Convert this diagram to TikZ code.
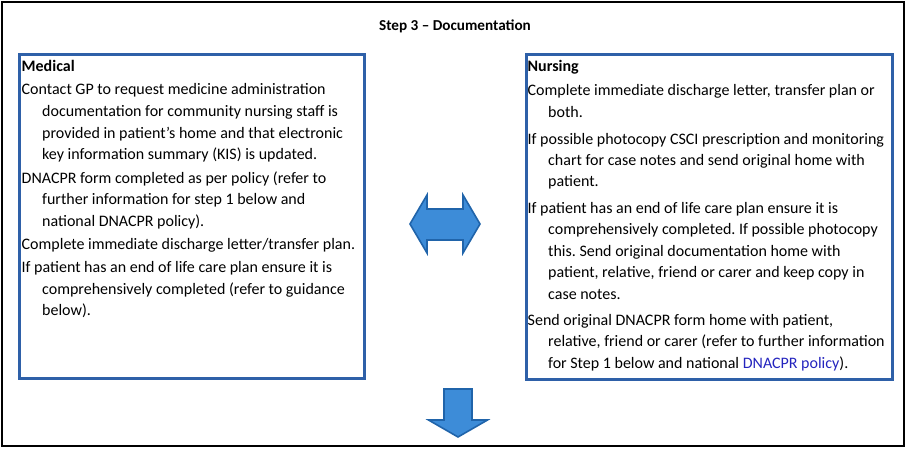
\documentclass[tikz,border=0pt]{standalone}
\usepackage{fontspec}
\setmainfont{Carlito}
\definecolor{boxblue}{RGB}{46,96,168}
\definecolor{arrowfill}{RGB}{61,140,216}
\definecolor{arrowline}{RGB}{32,100,170}
\definecolor{linkblue}{RGB}{36,36,190}
\frenchspacing
\begin{document}
\begin{tikzpicture}[x=1pt,y=-1pt,
  txt/.style={anchor=base west,inner sep=0pt,font=\fontsize{16}{19}\selectfont},
  head/.style={txt,font=\fontsize{16}{19}\selectfont\bfseries},
  panel/.style={draw=boxblue,line width=3pt},
  blockarrow/.style={fill=arrowfill,draw=arrowline,line width=1.6pt,line join=miter}]
\useasboundingbox (0,0) rectangle (906,449);
\draw[line width=1.2pt] (2,2) rectangle (904,446);
\node[anchor=base,inner sep=0pt,font=\fontsize{15.2}{18}\selectfont\bfseries] (title) at (455,31) {Step 3 – Documentation};

\draw[panel] (19,55) rectangle (364,379);
\draw[panel] (526,55) rectangle (892,380);

% Medical
\node[head] (m0) at (21.5,72) {Medical};
\node[txt] (m1) at (21.5,95) {Contact GP to request medicine administration};
\node[txt] (m2) at (42,116.7) {documentation for community nursing staff is};
\node[txt] (m3) at (42,138.3) {provided in patient’s home and that electronic};
\node[txt] (m4) at (42,160) {key information summary (KIS) is updated.};
\node[txt] (m5) at (21.5,183.3) {DNACPR form completed as per policy (refer to};
\node[txt] (m6) at (42,205) {further information for step 1 below and};
\node[txt] (m7) at (42,226.7) {national DNACPR policy).};
\node[txt] (m8) at (21.5,249.3) {Complete immediate discharge letter/transfer plan.};
\node[txt] (m9) at (21.5,272.7) {If patient has an end of life care plan ensure it is};
\node[txt] (m10) at (42,294.3) {comprehensively completed (refer to guidance};
\node[txt] (m11) at (42,316) {below).};

% Nursing
\node[head] (n0) at (527.5,71.7) {Nursing};
\node[txt] (n1) at (527.5,96) {Complete immediate discharge letter, transfer plan or};
\node[txt] (n2) at (548,117.7) {both.};
\node[txt] (n3) at (527.5,144.3) {If possible photocopy CSCI prescription and monitoring};
\node[txt] (n4) at (548,166) {chart for case notes and send original home with};
\node[txt] (n5) at (548,186.7) {patient.};
\node[txt] (n6) at (527.5,213.3) {If patient has an end of life care plan ensure it is};
\node[txt] (n7) at (548,235) {comprehensively completed. If possible photocopy};
\node[txt] (n8) at (548,256.7) {this. Send original documentation home with};
\node[txt] (n9) at (548,277.7) {patient, relative, friend or carer and keep copy in};
\node[txt] (n10) at (548,299.3) {case notes.};
\node[txt] (n11) at (527.5,326) {Send original DNACPR form home with patient,};
\node[txt] (n12) at (548,346.7) {relative, friend or carer (refer to further information};
\node[txt] (n13) at (548,368.3) {for Step 1 below and national \textcolor{linkblue}{DNACPR policy}).};

% double arrow
\draw[blockarrow] (410,224) -- (427,195) -- (427,209) -- (463,209) -- (463,195) -- (480,224)
  -- (463,253) -- (463,240) -- (427,240) -- (427,253) -- cycle;
% down arrow
\draw[blockarrow] (444,389) -- (472,389) -- (472,420) -- (487.5,420) -- (458,437)
  -- (428.5,420) -- (444,420) -- cycle;
\end{tikzpicture}
\end{document}
